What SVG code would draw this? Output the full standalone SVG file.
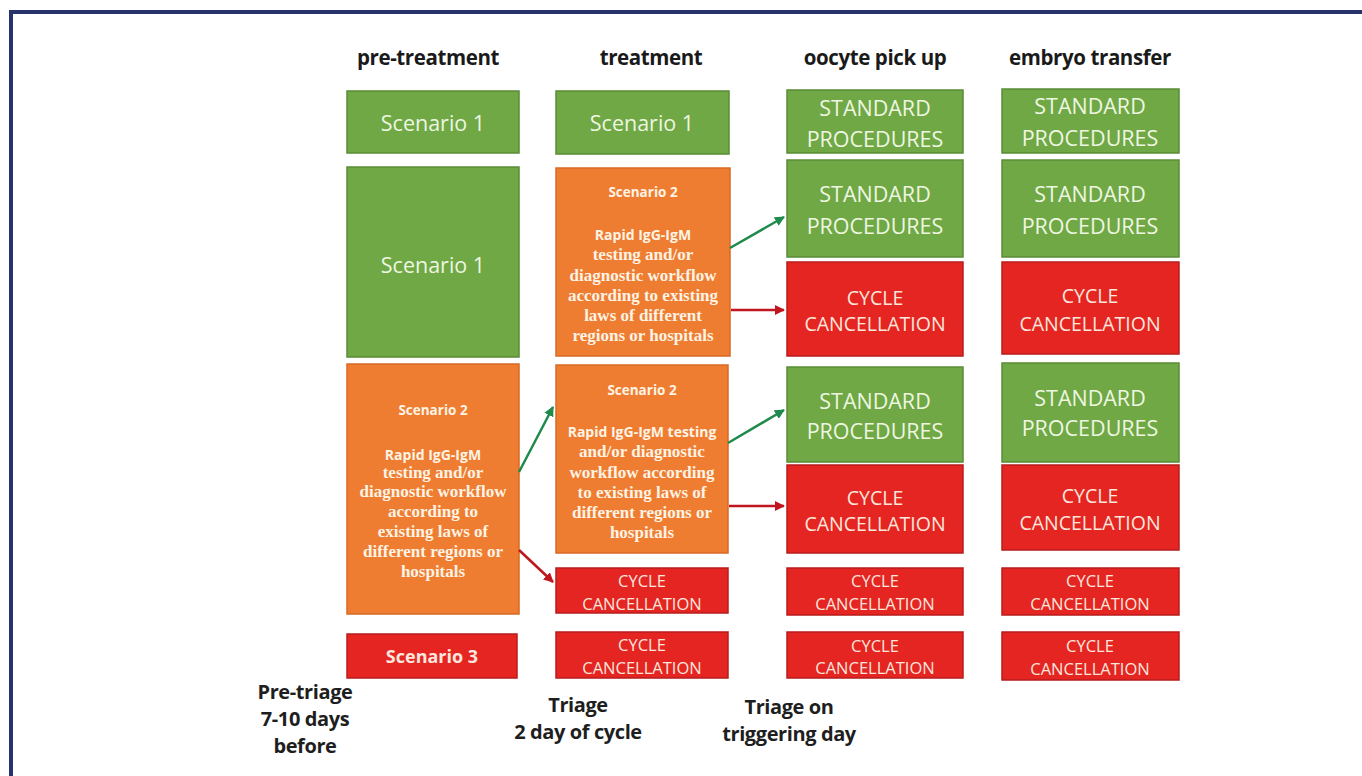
<svg xmlns="http://www.w3.org/2000/svg" width="1362" height="776" viewBox="0 0 1362 776">
<defs>
<style>
.g{fill:#6fa844;stroke:#5a8c36;stroke-width:1.5}
.o{fill:#ee7d32;stroke:#d86a24;stroke-width:1.5}
.r{fill:#e42521;stroke:#b81c1c;stroke-width:1.5}
text{text-anchor:middle;dominant-baseline:central}
.h{font-family:"Open Sans",sans-serif;font-weight:bold;font-size:20.5px;fill:#1a1a1a;letter-spacing:-0.4px}
.gt{font-family:"Open Sans",sans-serif;font-size:21.5px;fill:#eef6e2}
.rt{font-family:"Open Sans",sans-serif;font-size:19.5px;fill:#fde6dd}
.rs{font-family:"Open Sans",sans-serif;font-size:16.5px;fill:#fde6dd}
.s3{font-family:"Open Sans",sans-serif;font-weight:bold;font-size:18px;fill:#fde6dd}
.os{font-family:"Open Sans",sans-serif;font-weight:bold;font-size:13.5px;fill:#fff3e4}
.oa{font-family:"Open Sans",sans-serif;font-weight:bold;font-size:14px;fill:#fff3e4}
.ot{font-family:"Liberation Serif",serif;font-weight:bold;font-size:17px;fill:#fff3e4}
.b{font-family:"Open Sans",sans-serif;font-weight:bold;font-size:20px;fill:#1e1e1e;letter-spacing:-0.4px}
.ag{stroke:#1f8a4c;stroke-width:2.5;fill:none}
.ar{stroke:#c0161e;stroke-width:2.5;fill:none}
</style>
<marker id="mg" viewBox="0 0 10 10" refX="9" refY="5" markerWidth="4" markerHeight="4" orient="auto"><path d="M0,0 L10,5 L0,10 z" fill="#1f8a4c"/></marker>
<marker id="mr" viewBox="0 0 10 10" refX="9" refY="5" markerWidth="4" markerHeight="4" orient="auto"><path d="M0,0 L10,5 L0,10 z" fill="#c0161e"/></marker>
</defs>
<rect width="1362" height="776" fill="#ffffff"/>
<path d="M11,776 V12 H1362" fill="none" stroke="#27336b" stroke-width="4"/>

<g id="headers">
<text class="h" x="428" y="57">pre-treatment</text>
<text class="h" x="651" y="57">treatment</text>
<text class="h" x="875" y="57">oocyte pick up</text>
<text class="h" x="1090" y="57">embryo transfer</text>
</g>

<g id="c1a"><rect class="g" x="347" y="91" width="172" height="62"/><text class="gt" x="433" y="122">Scenario 1</text></g>
<g id="c1b"><rect class="g" x="347" y="167" width="172" height="190"/><text class="gt" x="433" y="264">Scenario 1</text></g>
<g id="c1c"><rect class="o" x="347" y="364" width="172" height="250"/>
<text class="os" x="433" y="410">Scenario 2</text>
<text class="oa" x="433" y="454">Rapid IgG-IgM</text>
<text class="ot" x="433" y="472">testing and/or</text>
<text class="ot" x="433" y="491">diagnostic workflow</text>
<text class="ot" x="433" y="511">according to</text>
<text class="ot" x="433" y="531">existing laws of</text>
<text class="ot" x="433" y="551">different regions or</text>
<text class="ot" x="433" y="571">hospitals</text>
</g>
<g id="c1d"><rect class="r" x="347" y="634" width="170" height="44"/><text class="s3" x="432" y="656">Scenario 3</text></g>

<g id="c2a"><rect class="g" x="556" y="91" width="173" height="63"/><text class="gt" x="642" y="122">Scenario 1</text></g>
<g id="c2b"><rect class="o" x="556" y="168" width="174" height="188"/>
<text class="os" x="643" y="192">Scenario 2</text>
<text class="oa" x="643" y="234">Rapid IgG-IgM</text>
<text class="ot" x="643" y="254">testing and/or</text>
<text class="ot" x="643" y="275">diagnostic workflow</text>
<text class="ot" x="643" y="295">according to existing</text>
<text class="ot" x="643" y="315">laws of different</text>
<text class="ot" x="643" y="335">regions or hospitals</text>
</g>
<g id="c2c"><rect class="o" x="556" y="365" width="172" height="188"/>
<text class="os" x="642" y="390">Scenario 2</text>
<text class="oa" x="642" y="431">Rapid IgG-IgM testing</text>
<text class="ot" x="642" y="451">and/or diagnostic</text>
<text class="ot" x="642" y="472">workflow according</text>
<text class="ot" x="642" y="492">to existing laws of</text>
<text class="ot" x="642" y="512">different regions or</text>
<text class="ot" x="642" y="532">hospitals</text>
</g>
<g id="c2d"><rect class="r" x="556" y="568" width="172" height="45"/><text class="rs" x="642" y="580">CYCLE</text><text class="rs" x="642" y="603">CANCELLATION</text></g>
<g id="c2e"><rect class="r" x="556" y="632" width="172" height="46"/><text class="rs" x="642" y="644">CYCLE</text><text class="rs" x="642" y="667">CANCELLATION</text></g>

<g id="c3a"><rect class="g" x="787" y="90" width="176" height="63"/><text class="gt" x="875" y="107">STANDARD</text><text class="gt" x="875" y="138">PROCEDURES</text></g>
<g id="c3b"><rect class="g" x="787" y="160" width="176" height="97"/><text class="gt" x="875" y="193">STANDARD</text><text class="gt" x="875" y="225">PROCEDURES</text></g>
<g id="c3c"><rect class="r" x="787" y="262" width="176" height="94"/><text class="rt" x="875" y="297">CYCLE</text><text class="rt" x="875" y="323">CANCELLATION</text></g>
<g id="c3d"><rect class="g" x="787" y="367" width="176" height="95"/><text class="gt" x="875" y="400">STANDARD</text><text class="gt" x="875" y="430">PROCEDURES</text></g>
<g id="c3e"><rect class="r" x="787" y="465" width="176" height="88"/><text class="rt" x="875" y="497">CYCLE</text><text class="rt" x="875" y="523">CANCELLATION</text></g>
<g id="c3f"><rect class="r" x="787" y="568" width="176" height="47"/><text class="rs" x="875" y="580">CYCLE</text><text class="rs" x="875" y="603">CANCELLATION</text></g>
<g id="c3g"><rect class="r" x="787" y="632" width="176" height="46"/><text class="rs" x="875" y="645">CYCLE</text><text class="rs" x="875" y="667">CANCELLATION</text></g>

<g id="c4a"><rect class="g" x="1002" y="89" width="177" height="64"/><text class="gt" x="1090" y="105">STANDARD</text><text class="gt" x="1090" y="137">PROCEDURES</text></g>
<g id="c4b"><rect class="g" x="1002" y="160" width="177" height="97"/><text class="gt" x="1090" y="193">STANDARD</text><text class="gt" x="1090" y="225">PROCEDURES</text></g>
<g id="c4c"><rect class="r" x="1002" y="262" width="177" height="92"/><text class="rt" x="1090" y="295">CYCLE</text><text class="rt" x="1090" y="323">CANCELLATION</text></g>
<g id="c4d"><rect class="g" x="1002" y="363" width="177" height="99"/><text class="gt" x="1090" y="397">STANDARD</text><text class="gt" x="1090" y="427">PROCEDURES</text></g>
<g id="c4e"><rect class="r" x="1002" y="465" width="177" height="85"/><text class="rt" x="1090" y="495">CYCLE</text><text class="rt" x="1090" y="522">CANCELLATION</text></g>
<g id="c4f"><rect class="r" x="1002" y="568" width="177" height="47"/><text class="rs" x="1090" y="580">CYCLE</text><text class="rs" x="1090" y="603">CANCELLATION</text></g>
<g id="c4g"><rect class="r" x="1002" y="632" width="177" height="48"/><text class="rs" x="1090" y="645">CYCLE</text><text class="rs" x="1090" y="668">CANCELLATION</text></g>

<g id="connectors">
<line class="ag" x1="519" y1="472" x2="553" y2="407" marker-end="url(#mg)"/>
<line class="ar" x1="519" y1="550" x2="553" y2="582" marker-end="url(#mr)"/>
<line class="ag" x1="730" y1="248" x2="784" y2="217" marker-end="url(#mg)"/>
<line class="ar" x1="731" y1="310" x2="784" y2="310" marker-end="url(#mr)"/>
<line class="ag" x1="728" y1="443" x2="784" y2="410" marker-end="url(#mg)"/>
<line class="ar" x1="729" y1="506" x2="784" y2="506" marker-end="url(#mr)"/>
</g>

<g id="footer">
<text class="b" x="305" y="691">Pre-triage</text>
<text class="b" x="305" y="718">7-10 days</text>
<text class="b" x="305" y="745">before</text>
<text class="b" x="578" y="704">Triage</text>
<text class="b" x="578" y="731">2 day of cycle</text>
<text class="b" x="789" y="706">Triage on</text>
<text class="b" x="789" y="733">triggering day</text>
</g>
</svg>
